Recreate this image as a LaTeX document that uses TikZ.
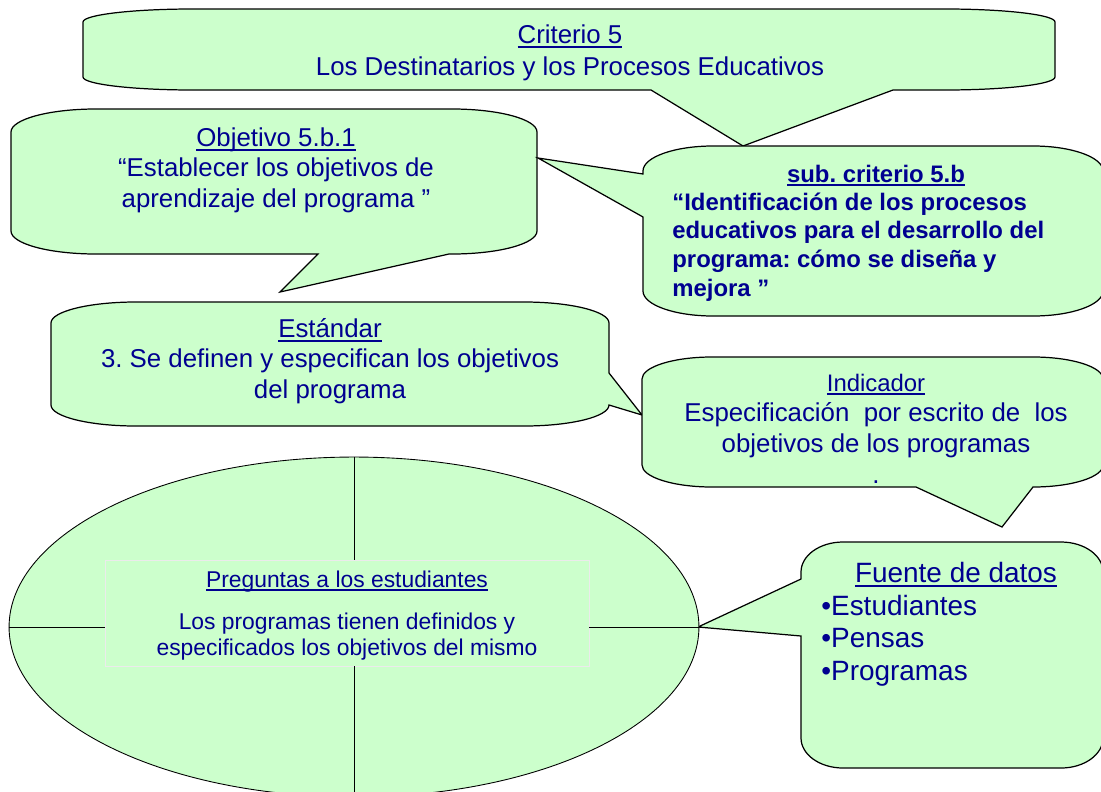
\documentclass[tikz,border=0pt]{standalone}
\usepackage{fontspec}
\setmainfont{Liberation Sans}
\frenchspacing
\usetikzlibrary{shapes.geometric}
\definecolor{verdeclaro}{HTML}{CCFFCC}
\definecolor{azul}{HTML}{000090}
\newcommand{\subr}[1]{\setbox0\hbox{#1}\rlap{\rule[-0.17em]{\wd0}{0.07em}}\box0}
\begin{document}
\begin{tikzpicture}[x=0.02cm, y=-0.02cm,
  globo/.style={draw=black, fill=verdeclaro, line width=0.7pt},
  linea/.style={draw=black, line width=0.5pt},
  texto/.style={text=azul, inner sep=0pt, anchor=base, align=center}]
\path[use as bounding box, fill=white] (0,0) rectangle (1101,791);
\clip (0,0) rectangle (1101,791);
\draw[globo, x radius=110, y radius=13] (83,22) arc[start angle=180, end angle=270] -- (945,9) arc[start angle=270, end angle=360] -- (1055,77) arc[start angle=0, end angle=90] -- (893,90) -- (743,146) -- (651,90) -- (193,90) arc[start angle=90, end angle=180] -- cycle;
\draw[globo, x radius=85, y radius=23] (11,132) arc[start angle=180, end angle=270] -- (452,109) arc[start angle=270, end angle=360] -- (537,231) arc[start angle=0, end angle=90] -- (449,254) -- (280,292) -- (318,254) -- (96,254) arc[start angle=90, end angle=180] -- cycle;
\draw[globo, x radius=70, y radius=25] (643,171) arc[start angle=180, end angle=270] -- (1033,146) arc[start angle=270, end angle=360] -- (1103,291) arc[start angle=0, end angle=90] -- (713,316) arc[start angle=90, end angle=180] -- (643,217) -- (538,158) -- (643,174) -- cycle;
\draw[globo, x radius=85, y radius=21] (51,323) arc[start angle=180, end angle=270] -- (524,302) arc[start angle=270, end angle=360] -- (609,373) -- (642,415) -- (609,405) arc[start angle=0, end angle=90] -- (136,426) arc[start angle=90, end angle=180] -- cycle;
\draw[globo, x radius=70, y radius=22] (642,379) arc[start angle=180, end angle=270] -- (1033,357) arc[start angle=270, end angle=360] -- (1103,465) arc[start angle=0, end angle=90] -- (1002,527) -- (916,487) -- (712,487) arc[start angle=90, end angle=180] -- cycle;
\draw[globo, x radius=42, y radius=30] (801,572) arc[start angle=180, end angle=270] -- (1061,542) arc[start angle=270, end angle=360] -- (1103,738) arc[start angle=0, end angle=90] -- (843,768) arc[start angle=90, end angle=180] -- (801,636) -- (698,627) -- (801,579) -- cycle;
\node[ellipse, draw, fill=verdeclaro, line width=0.5pt, inner sep=0pt, minimum width=13.8cm, minimum height=6.8cm] (preg) at (354,627) {};
\node[draw=black!8, fill=verdeclaro, inner sep=0pt, minimum width=9.68cm, minimum height=2.12cm] (pregbox) at (347,613) {};
\draw[linea] (preg.north) -- (preg.north |- pregbox.north);
\draw[linea] (preg.south) -- (preg.south |- pregbox.south);
\draw[linea] (preg.west) -- (preg.west -| pregbox.west);
\draw[linea] (preg.east) -- (preg.east -| pregbox.east);
\node[texto, font={\fontsize{14.7}{18.1}\selectfont}] (crit) at (570,75) {\subr{Criterio 5}\\Los Destinatarios y los Procesos Educativos};
\node[texto, font={\fontsize{14.7}{17.3}\selectfont}] (obj) at (276,207) {\subr{Objetivo 5.b.1}\\“Establecer los objetivos de\\aprendizaje del programa ”};
\node[texto, font={\fontsize{13.6}{16.2}\selectfont\bfseries}] (subtit) at (876,182) {\subr{sub. criterio 5.b}};
\node[texto, anchor=base west, align=left, font={\fontsize{13.6}{16.3}\selectfont\bfseries}] (subtxt) at (672,296) {“Identificación de los procesos\\educativos para el desarrollo del\\programa: cómo se diseña y\\mejora ”};
\node[texto, font={\fontsize{14.7}{17.3}\selectfont}] (est) at (330,398) {\subr{Estándar}\\3. Se definen y especifican los objetivos\\del programa};
\node[texto, font={\fontsize{13.6}{16}\selectfont}] (indtit) at (876,391) {\subr{Indicador}};
\node[texto, font={\fontsize{14.7}{17.4}\selectfont}] (indtxt) at (876,483) {Especificación~ por escrito de~ los\\objetivos de los programas\\.};
\node[texto, font={\fontsize{13}{14.7}\selectfont}] (pregtit) at (347,587) {\subr{Preguntas a los estudiantes}};
\node[texto, font={\fontsize{13}{14.7}\selectfont}] (pregtxt) at (347,655) {Los programas tienen definidos y\\especificados los objetivos del mismo};
\node[texto, font={\fontsize{15.9}{18.5}\selectfont}] (fuetit) at (956,582) {\subr{Fuente de datos}};
\node[texto, anchor=base west, align=left, font={\fontsize{15.9}{18.5}\selectfont}] (fuetxt) at (821,680) {•Estudiantes\\•Pensas\\•Programas};
\end{tikzpicture}
\end{document}
